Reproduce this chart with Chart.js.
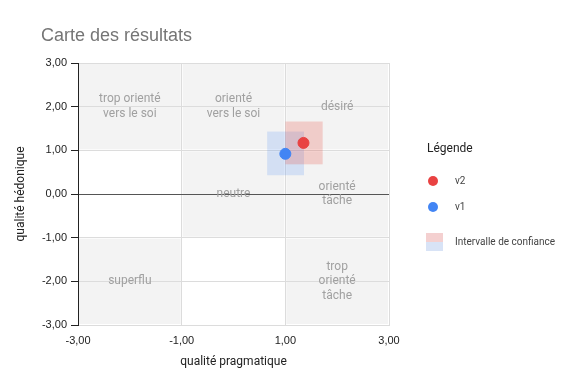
<!DOCTYPE html>
<html>
<head>
<meta charset="utf-8">
<script src="https://cdn.jsdelivr.net/npm/chart.js@4.4.0/dist/chart.umd.min.js"></script>
<style>
  body { margin: 0; background: #fff; }
  #wrap { position: relative; width: 572px; height: 390px; }
  #title { position: absolute; left: 41px; top: 25px; font: 18px "Liberation Sans", Arial, sans-serif; color: #757575; }
  .lg { position: absolute; font-family: Roboto, sans-serif; color: #444; }
  .dot { position: absolute; width: 10px; height: 10px; border-radius: 50%; }
</style>
</head>
<body>
<div id="wrap">
  <canvas id="carte" width="572" height="390"></canvas>
  <div id="title">Carte des résultats</div>
  <div class="lg" style="left:427px;top:141px;font-size:12px;color:#222">Légende</div>
  <div class="dot" style="left:428px;top:176px;background:#e94242"></div>
  <div class="lg" style="left:455px;top:175px;font-size:10px">v2</div>
  <div class="dot" style="left:428px;top:202px;background:#4285f4"></div>
  <div class="lg" style="left:455px;top:201px;font-size:10px">v1</div>
  <div style="position:absolute;left:426px;top:233px;width:17px;height:9px;background:#f4d0d0"></div>
  <div style="position:absolute;left:426px;top:242px;width:17px;height:9px;background:#d8e3f6"></div>
  <div class="lg" style="left:455px;top:236px;font-size:10px">Intervalle de confiance</div>
</div>
<script>
// series (mean + confidence interval)
var seriesNames = ['v2', 'v1'];
var seriesColors = ['#e94242', '#4285f4'];
var ciColors = ['rgba(234,67,53,0.22)', 'rgba(66,133,244,0.18)'];
var pragmatique = [1.35, 1.00];
var hedonique = [1.17, 0.92];
var ciPragMin = [1.00, 0.65];
var ciPragMax = [1.72, 1.36];
var ciHedMin = [0.68, 0.43];
var ciHedMax = [1.66, 1.43];

// zones of the map
var zoneNames = [['trop orienté', 'vers le soi'], ['orienté', 'vers le soi'], ['désiré'], ['neutre'], ['orienté', 'tâche'], ['trop', 'orienté', 'tâche'], ['superflu']];
var zoneXMin = [-3, -1, 1, -1, 1, 1, -3];
var zoneXMax = [-1, 1, 3, 1, 3, 3, -1];
var zoneYMin = [1, 1, 1, -1, -1, -3, -3];
var zoneYMax = [3, 3, 3, 1, 1, -1, -1];

var xTicks = [-3, -1, 1, 3];
var yTicks = [-3, -2, -1, 0, 1, 2, 3];

function fmt(v) { return v.toFixed(2).replace('.', ','); }

var zonesPlugin = {
  id: 'zones',
  beforeDraw: function(chart) {
    var ctx = chart.ctx, x = chart.scales.x, y = chart.scales.y;
    ctx.save();
    ctx.fillStyle = '#f3f3f3';
    for (var i = 0; i < zoneNames.length; i++) {
      var x1 = x.getPixelForValue(zoneXMin[i]), x2 = x.getPixelForValue(zoneXMax[i]);
      var y1 = y.getPixelForValue(zoneYMax[i]), y2 = y.getPixelForValue(zoneYMin[i]);
      ctx.fillRect(x1 + 1, y1 + 1, x2 - x1 - 2, y2 - y1 - 2);
    }
    ctx.restore();
  },
  beforeDatasetsDraw: function(chart) {
    var ctx = chart.ctx, x = chart.scales.x, y = chart.scales.y;
    ctx.save();
    ctx.font = '12px Roboto, sans-serif';
    ctx.fillStyle = '#a0a0a0';
    ctx.textAlign = 'center';
    ctx.textBaseline = 'middle';
    for (var i = 0; i < zoneNames.length; i++) {
      var cx = x.getPixelForValue((zoneXMin[i] + zoneXMax[i]) / 2);
      var cy = y.getPixelForValue((zoneYMin[i] + zoneYMax[i]) / 2);
      var lines = zoneNames[i];
      for (var j = 0; j < lines.length; j++) {
        ctx.fillText(lines[j], cx, cy + (j - (lines.length - 1) / 2) * 14.5);
      }
    }
    // confidence intervals, last series first
    for (var k = seriesNames.length - 1; k >= 0; k--) {
      var a = x.getPixelForValue(ciPragMin[k]), b = x.getPixelForValue(ciPragMax[k]);
      var c = y.getPixelForValue(ciHedMax[k]), d = y.getPixelForValue(ciHedMin[k]);
      ctx.fillStyle = ciColors[k];
      ctx.fillRect(a, c, b - a, d - c);
    }
    ctx.restore();
  }
};

var datasets = [];
for (var i = 0; i < seriesNames.length; i++) {
  datasets.push({
    label: seriesNames[i],
    data: [{ x: pragmatique[i], y: hedonique[i] }],
    backgroundColor: seriesColors[i],
    borderColor: seriesColors[i],
    pointRadius: 5.5,
    pointHoverRadius: 5.5
  });
}

var ctx = document.getElementById('carte');
var myChart = new Chart(ctx, {
  type: 'scatter',
  data: { datasets: datasets },
  plugins: [zonesPlugin],
  options: {
    responsive: false,
    animation: false,
    layout: { padding: { left: 0, right: 183, top: 63, bottom: 0 } },
    plugins: { legend: { display: false }, tooltip: { enabled: false } },
    scales: {
      x: {
        type: 'linear',
        min: -3, max: 3,
        afterFit: function(s) { s.height = 65; },
        afterBuildTicks: function(s) { s.ticks = xTicks.map(function(v) { return { value: v }; }); },
        ticks: { callback: fmt, color: '#222', padding: 9, maxRotation: 0, font: { family: 'Liberation Sans', size: 11 } },
        grid: { color: '#dcdcdc', drawTicks: false },
        border: { color: '#dcdcdc' },
        title: { display: true, text: 'qualité pragmatique', color: '#222', padding: { bottom: 21 }, font: { family: 'Roboto', size: 12 } }
      },
      y: {
        type: 'linear',
        min: -3, max: 3,
        afterFit: function(s) { s.width = 78; },
        afterBuildTicks: function(s) { s.ticks = yTicks.map(function(v) { return { value: v }; }); },
        ticks: { callback: fmt, color: '#222', padding: 4, font: { family: 'Liberation Sans', size: 11 } },
        grid: {
          color: function(c) { return c.tick && c.tick.value === 0 ? '#555' : '#dcdcdc'; },
          tickColor: '#222',
          tickLength: 7
        },
        border: { color: '#222' },
        title: { display: true, text: 'qualité hédonique', color: '#222', padding: { top: 14 }, font: { family: 'Roboto', size: 12 } }
      }
    }
  }
});
</script>
</body>
</html>
